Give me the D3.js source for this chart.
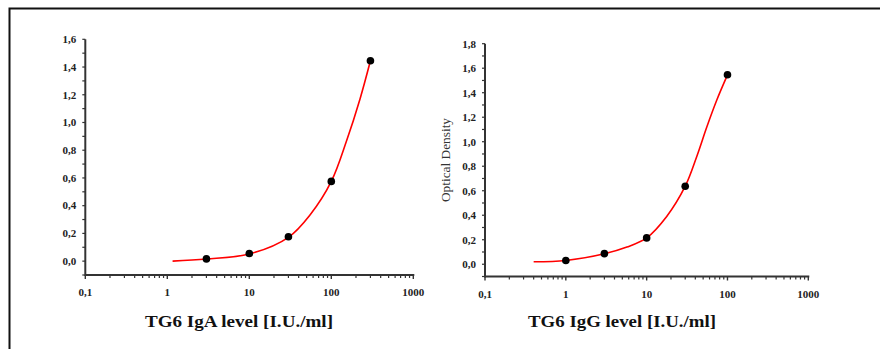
<!DOCTYPE html>
<html><head><meta charset="utf-8">
<script src="https://cdn.jsdelivr.net/npm/d3@7"></script>
<style>body{margin:0;background:#fff}svg{display:block}</style>
</head><body>
<svg id="c" width="880" height="349"></svg>
<script>
// ---- data ----
const xTickValues = [0.1, 1, 10, 100, 1000];
const xTickLabels = ["0,1", "1", "10", "100", "1000"];
const iga_conc = [3, 10, 30, 100, 300];
const iga_od   = [0.016, 0.055, 0.176, 0.575, 1.445];
const iga_fit_x = [1.16, 3, 10, 30, 55, 100, 154, 224, 300];
const iga_fit_y = [0.0, 0.015, 0.052, 0.172, 0.333, 0.575, 0.87, 1.17, 1.445];
const igaYTicks = [0, 0.2, 0.4, 0.6, 0.8, 1.0, 1.2, 1.4, 1.6];

const igg_conc = [1, 3, 10, 30, 100];
const igg_od   = [0.031, 0.087, 0.215, 0.637, 1.547];
const igg_fit_x = [0.4, 1, 3, 5.7, 10, 17.7, 30, 41.7, 55.5, 73.8, 100];
const igg_fit_y = [0.02, 0.03, 0.085, 0.14, 0.215, 0.39, 0.637, 0.88, 1.12, 1.34, 1.545];
const iggYTicks = [0, 0.2, 0.4, 0.6, 0.8, 1.0, 1.2, 1.4, 1.6, 1.8];

const svg = d3.select("#c");
// frame
svg.append("path").attr("d","M9.5,349 L9.5,8.5 L880,8.5").attr("fill","none").attr("stroke","#111").attr("stroke-width",2);

const fmt = d => d3.format(".1f")(d).replace(".", ",");
const axisColor = "#333";
const tickFont = "bold 11px 'Liberation Serif', 'DejaVu Serif', serif";

function panel(o) {
  const g = svg.append("g");
  const x = d3.scaleLog().domain([0.1, 1000]).range([o.x0, o.x1]);
  const y = d3.scaleLinear().domain([-0.1, o.ymax]).range([o.yb, o.yt]);

  // minor x ticks
  const minor = [];
  for (let d = 0.1; d < 1000; d *= 10) for (let k = 2; k <= 9; k++) minor.push(d * k);
  g.selectAll(".mx").data(minor).join("line")
    .attr("x1", d => x(d)).attr("x2", d => x(d)).attr("y1", o.yb).attr("y2", o.yb + 3)
    .attr("stroke", axisColor).attr("stroke-width", 1.2);
  g.selectAll(".Mx").data(xTickValues).join("line")
    .attr("x1", d => x(d)).attr("x2", d => x(d)).attr("y1", o.yb).attr("y2", o.yb + 4)
    .attr("stroke", axisColor).attr("stroke-width", 1.4);
  g.selectAll(".lx").data(xTickValues).join("text")
    .attr("x", d => x(d)).attr("y", o.yb + 21).attr("text-anchor", "middle")
    .style("font", tickFont).attr("fill", "#222")
    .text((d, i) => xTickLabels[i]);

  // y ticks
  const yminor = d3.range(-0.1, o.ymax + 0.001, 0.1).map(v => +v.toFixed(2));
  g.selectAll(".my").data(yminor).join("line")
    .attr("x1", o.x0 - 3).attr("x2", o.x0).attr("y1", d => y(d)).attr("y2", d => y(d))
    .attr("stroke", axisColor).attr("stroke-width", 1.2);
  g.selectAll(".ly").data(o.yticks).join("text")
    .attr("x", o.x0 - 9).attr("y", d => y(d) + 3.8).attr("text-anchor", "end")
    .style("font", tickFont).attr("fill", "#222")
    .text(fmt);

  // axis lines
  g.append("line").attr("x1", o.x0).attr("x2", o.x1 + 1).attr("y1", o.yb).attr("y2", o.yb)
    .attr("stroke", axisColor).attr("stroke-width", 2);
  g.append("line").attr("x1", o.x0).attr("x2", o.x0).attr("y1", o.yb + 1).attr("y2", o.yt)
    .attr("stroke", axisColor).attr("stroke-width", 2);

  // fit curve
  const pts = o.fx.map((v, i) => [x(v), y(o.fy[i])]);
  g.append("path").attr("d", d3.line().curve(d3.curveCatmullRom.alpha(0.5))(pts))
    .attr("fill", "none").attr("stroke", "#f00").attr("stroke-width", 1.6);

  // points
  g.selectAll(".pt").data(o.cx).join("circle")
    .attr("cx", d => x(d)).attr("cy", (d, i) => y(o.cy[i])).attr("r", 3.8).attr("fill", "#000");

  // title
  g.append("text").attr("x", o.tx).attr("y", 327).attr("text-anchor", "middle")
    .style("font", "bold 17px 'Liberation Serif', 'DejaVu Serif', serif").attr("fill", "#111")
    .attr("textLength", 188).attr("lengthAdjust", "spacingAndGlyphs")
    .text(o.title);
  return {x, y};
}

panel({x0: 85.3, x1: 413.3, yb: 275, yt: 39.3, ymax: 1.6, yticks: igaYTicks,
       cx: iga_conc, cy: iga_od, fx: iga_fit_x, fy: iga_fit_y,
       tx: 239, title: "TG6 IgA level [I.U./ml]"});
panel({x0: 485, x1: 808.3, yb: 276.5, yt: 43.7, ymax: 1.8, yticks: iggYTicks,
       cx: igg_conc, cy: igg_od, fx: igg_fit_x, fy: igg_fit_y,
       tx: 622, title: "TG6 IgG level [I.U./ml]"});

svg.append("text").attr("transform", "translate(450,160) rotate(-90)")
  .attr("text-anchor", "middle")
  .style("font", "12px 'Liberation Serif', 'DejaVu Serif', serif").attr("fill", "#333")
  .attr("textLength", 84).attr("lengthAdjust", "spacingAndGlyphs")
  .text("Optical Density");
</script>
</body></html>
